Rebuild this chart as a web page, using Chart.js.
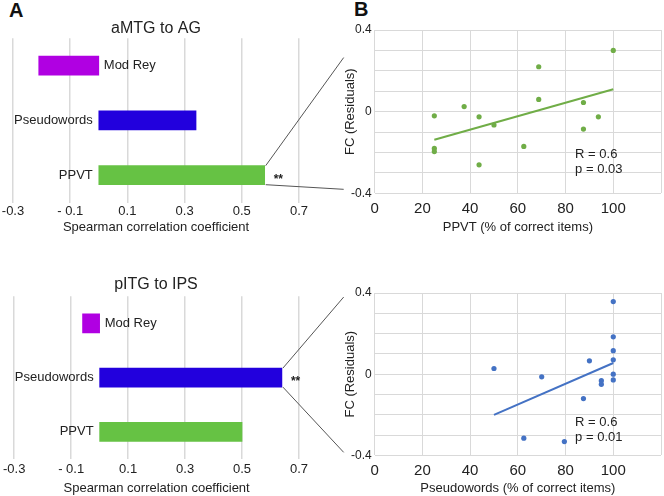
<!DOCTYPE html>
<html lang="en">
<head>
  <meta charset="UTF-8" />
  <title>FC correlations</title>
  <script src="https://cdn.jsdelivr.net/npm/chart.js"></script>
  <style>
    * { margin: 0; padding: 0; box-sizing: border-box; }
    body {
      width: 664px;
      height: 496px;
      background: #fff;
      font-family: 'Liberation Sans', Arial, sans-serif;
      color: #222;
      position: relative;
      overflow: hidden;
    }
    canvas { position: absolute; display: block; }
    .panel-letter {
      position: absolute;
      font-size: 20px;
      font-weight: bold;
      color: #111;
    }
    #overlay { pointer-events: none; z-index: 5; }
  </style>
</head>
<body>
  <div class="panel-letter" style="left:9px; top:-1px;">A</div>
  <div class="panel-letter" style="left:354px; top:-2px;">B</div>

  <canvas id="barTop" width="330" height="240" style="left:0; top:0;"></canvas>
  <canvas id="barBottom" width="330" height="240" style="left:0; top:258px;"></canvas>
  <canvas id="scatterTop" width="337" height="240" style="left:330px; top:0;"></canvas>
  <canvas id="scatterBottom" width="337" height="238" style="left:330px; top:258px;"></canvas>
  <canvas id="overlay" width="664" height="496" style="left:0; top:0;"></canvas>

  <script>
    // ---- data ----
    const measures = ['Mod Rey', 'Pseudowords', 'PPVT'];
    const measureColors = ['#b000e2', '#2200dd', '#66c244'];
    const aMtgAgRho = [-0.21, 0.34, 0.58];
    const aMtgAgSig = ['', '', '**'];
    const pItgIpsRho = [-0.06, 0.64, 0.50];
    const pItgIpsSig = ['', '**', ''];
    const rhoTicks = [-0.3, -0.1, 0.1, 0.3, 0.5, 0.7];
    const rhoTickLabels = ['-0.3', '- 0.1', '0.1', '0.3', '0.5', '0.7'];

    const ppvtScore = [25, 25, 25, 37.5, 43.75, 43.75, 50, 62.5, 68.75, 68.75, 87.5, 87.5, 93.75, 100];
    const ppvtFc = [-0.02, -0.18, -0.195, 0.025, -0.025, -0.26, -0.065, -0.17, 0.22, 0.06, 0.045, -0.085, -0.025, 0.30];
    const ppvtFitX = [25, 100];
    const ppvtFitY = [-0.137, 0.11];

    const pseudoScore = [50, 62.5, 70, 79.5, 87.5, 90, 95, 95, 100, 100, 100, 100, 100, 100];
    const pseudoFc = [0.028, -0.315, -0.013, -0.332, -0.12, 0.066, -0.032, -0.05, 0.358, 0.184, 0.116, 0.071, 0.0, -0.028];
    const pseudoFitX = [50, 100];
    const pseudoFitY = [-0.2, 0.055];

    const scatterXTicks = [0, 20, 40, 60, 80, 100];
    const scatterYTicks = [-0.4, 0, 0.4];

    const FONT = "'Liberation Sans', Arial, sans-serif";
    const TEXT = '#222';
    const GRID = '#d9d9d9';

    // labels sit on the opposite side of zero from the bar, stars after the bar end
    const barLabelPlugin = {
      id: 'barLabels',
      afterDatasetsDraw(chart, args, opts) {
        const ctx = chart.ctx;
        const values = chart.data.datasets[0].data;
        const zero = chart.scales.x.getPixelForValue(0);
        ctx.save();
        ctx.fillStyle = TEXT;
        ctx.textBaseline = 'middle';
        chart.getDatasetMeta(0).data.forEach((bar, i) => {
          ctx.font = '13px ' + FONT;
          if (values[i] >= 0) {
            ctx.textAlign = 'right';
            ctx.fillText(chart.data.labels[i], zero - 6, bar.y);
          } else {
            ctx.textAlign = 'left';
            ctx.fillText(chart.data.labels[i], zero + 5, bar.y);
          }
          if (opts.sig[i]) {
            ctx.textAlign = 'left';
            ctx.font = 'bold 12px ' + FONT;
            ctx.fillText(opts.sig[i], bar.x + 9, bar.y + 4);
          }
        });
        ctx.restore();
      }
    };

    function barChart(id, title, values, sig, lay) {
      return new Chart(document.getElementById(id), {
        type: 'bar',
        data: {
          labels: measures,
          datasets: [{
            data: values,
            backgroundColor: measureColors,
            barThickness: 19
          }]
        },
        plugins: [barLabelPlugin],
        options: {
          indexAxis: 'y',
          responsive: false,
          animation: false,
          layout: { padding: { left: 13, right: 31, top: 0, bottom: 0 } },
          plugins: {
            legend: { display: false },
            tooltip: { enabled: false },
            barLabels: { sig: sig },
            title: {
              display: true,
              text: title,
              color: TEXT,
              font: { family: FONT, size: 16, weight: 'normal' },
              padding: { top: lay.titleTop, bottom: lay.titleBottom }
            }
          },
          scales: {
            x: {
              min: -0.3,
              max: 0.7,
              afterBuildTicks: s => { s.ticks = rhoTicks.map(v => ({ value: v })); },
              ticks: {
                callback: (v, i) => rhoTickLabels[i],
                color: TEXT,
                font: { family: FONT, size: 13 },
                padding: lay.tickPad,
                maxRotation: 0,
                autoSkip: false
              },
              grid: { color: GRID, lineWidth: 1.5, drawTicks: false },
              border: { display: false },
              title: {
                display: true,
                text: 'Spearman correlation coefficient',
                color: TEXT,
                font: { family: FONT, size: 13 },
                padding: { top: lay.axisTop, bottom: lay.axisBottom }
              }
            },
            y: { display: false }
          }
        }
      });
    }

    // y title and R / p note drawn by hand so they sit where the figure has them
    const scatterNotesPlugin = {
      id: 'scatterNotes',
      afterDraw(chart, args, opts) {
        const ctx = chart.ctx;
        const area = chart.chartArea;
        ctx.save();
        ctx.fillStyle = TEXT;
        ctx.font = '13px ' + FONT;
        ctx.textAlign = 'center';
        ctx.textBaseline = 'middle';
        ctx.translate(area.left - 24, (area.top + area.bottom) / 2);
        ctx.rotate(-Math.PI / 2);
        ctx.fillText('FC (Residuals)', 0, 0);
        ctx.restore();

        ctx.save();
        ctx.fillStyle = TEXT;
        ctx.font = '13px ' + FONT;
        ctx.textAlign = 'left';
        ctx.textBaseline = 'middle';
        const x = chart.scales.x.getPixelForValue(opts.at[0]);
        const y = chart.scales.y.getPixelForValue(opts.at[1]);
        opts.lines.forEach((t, i) => ctx.fillText(t, x, y + i * 15));
        ctx.restore();
      }
    };

    function scatterChart(id, xs, ys, fitX, fitY, color, xTitle, notes, lay) {
      return new Chart(document.getElementById(id), {
        type: 'scatter',
        data: {
          datasets: [{
            data: fitX.map((x, i) => ({ x: x, y: fitY[i] })),
            showLine: true,
            borderColor: color,
            borderWidth: 2,
            pointRadius: 0
          }, {
            data: xs.map((x, i) => ({ x: x, y: ys[i] })),
            backgroundColor: color,
            borderWidth: 0,
            pointRadius: 2.6
          }]
        },
        plugins: [scatterNotesPlugin],
        options: {
          responsive: false,
          animation: false,
          layout: { padding: { left: 18, right: 0, top: lay.top, bottom: 0 } },
          plugins: {
            legend: { display: false },
            tooltip: { enabled: false },
            scatterNotes: notes
          },
          scales: {
            x: {
              type: 'linear',
              min: 0,
              max: 120,
              ticks: {
                stepSize: 20,
                callback: v => scatterXTicks.includes(v) ? String(v) : '',
                color: TEXT,
                font: { family: FONT, size: 15 },
                padding: 6,
                maxRotation: 0,
                autoSkip: false
              },
              grid: { color: GRID, lineWidth: 1, drawTicks: false },
              border: { display: false },
              title: {
                display: true,
                text: xTitle,
                color: TEXT,
                font: { family: FONT, size: 13 },
                padding: { top: lay.axisTop, bottom: lay.axisBottom }
              }
            },
            y: {
              min: -0.4,
              max: 0.4,
              ticks: {
                stepSize: 0.1,
                callback: v => {
                  const hit = scatterYTicks.find(t => Math.abs(t - v) < 1e-6);
                  return hit === undefined ? '' : String(hit);
                },
                color: TEXT,
                font: { family: FONT, size: 12 },
                padding: 3,
                autoSkip: false
              },
              grid: { color: GRID, lineWidth: 1, drawTicks: false },
              border: { display: false }
            }
          }
        }
      });
    }

    const barTop = barChart('barTop', 'aMTG to AG', aMtgAgRho, aMtgAgSig,
      { titleTop: 19, titleBottom: 0, tickPad: 1.5, axisTop: -2, axisBottom: 5.2 });
    const barBottom = barChart('barBottom', 'pITG to IPS', pItgIpsRho, pItgIpsSig,
      { titleTop: 17, titleBottom: 2, tickPad: 3, axisTop: 0.3, axisBottom: 1.5 });
    const scTop = scatterChart('scatterTop', ppvtScore, ppvtFc, ppvtFitX, ppvtFitY, '#70ad47',
      'PPVT (% of correct items)', { at: [84, -0.21], lines: ['R = 0.6', 'p = 0.03'] },
      { top: 30, axisTop: -4, axisBottom: 5 });
    const scBottom = scatterChart('scatterBottom', pseudoScore, pseudoFc, pseudoFitX, pseudoFitY, '#4472c4',
      'Pseudowords (% of correct items)', { at: [84, -0.236], lines: ['R = 0.6', 'p = 0.01'] },
      { top: 35, axisTop: -5, axisBottom: 0 });

    // zoom lines from the significant bar to the scatter plot it expands
    function connect(bar, barIdx, scatter, yHi, yLo) {
      const ov = document.getElementById('overlay').getContext('2d');
      const bOff = bar.canvas.getBoundingClientRect();
      const sOff = scatter.canvas.getBoundingClientRect();
      const el = bar.getDatasetMeta(0).data[barIdx];
      const bx = bOff.left + el.x + 1;
      const by = bOff.top + el.y;
      const h = el.height / 2;
      const sx = sOff.left + scatter.chartArea.left - 31;
      ov.save();
      ov.strokeStyle = '#555';
      ov.lineWidth = 1;
      ov.beginPath();
      ov.moveTo(bx, by - h);
      ov.lineTo(sx, sOff.top + scatter.scales.y.getPixelForValue(yHi));
      ov.moveTo(bx, by + h);
      ov.lineTo(sx, sOff.top + scatter.scales.y.getPixelForValue(yLo));
      ov.stroke();
      ov.restore();
    }
    connect(barTop, 2, scTop, 0.265, -0.38);
    connect(barBottom, 1, scBottom, 0.38, -0.385);
  </script>
</body>
</html>
